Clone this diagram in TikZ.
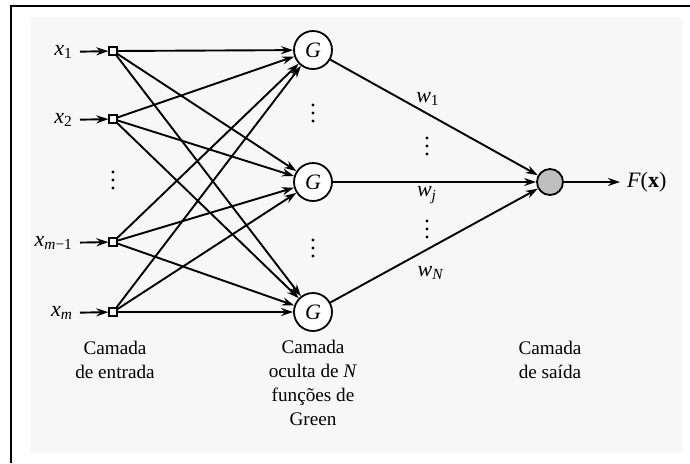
\documentclass[tikz,border=0pt]{standalone}
\usepackage{fontspec}
\setmainfont{Liberation Serif}
\usetikzlibrary{arrows.meta}
\begin{document}
\begin{tikzpicture}[x=0.5pt,y=-0.5pt,
  every node/.style={font=\fontsize{9.6}{12}\selectfont},
  sym/.style={font=\fontsize{11}{13}\selectfont},
  inp/.style={draw,line width=0.8pt,minimum size=3.8pt,inner sep=0pt,fill=white},
  hid/.style={circle,draw,line width=0.9pt,minimum size=19pt,inner sep=0pt,fill=white,font=\fontsize{11}{13}\selectfont},
  outn/.style={circle,draw,line width=0.9pt,minimum size=13pt,inner sep=0pt,fill=gray!50},
  conn/.style={line width=0.95pt,-{Stealth[length=6pt,width=4pt]}},
  lab/.style={align=center},
  dotf/.style={fill=black}]
\useasboundingbox (0,0) rectangle (690,463);
\fill[white] (0,0) rectangle (690,463);
\fill[black!3] (31,17) rectangle (682,453);
\draw[line width=1pt] (11,463) -- (11,6) -- (690,6);

% input nodes
\node[inp] (i1) at (113,51) {};
\node[inp] (i2) at (113,119) {};
\node[inp] (i3) at (113,242) {};
\node[inp] (i4) at (113,312) {};
\node[sym,anchor=east] (l1) at (80,52) {\textit{x}\textsubscript{1}};
\node[sym,anchor=east] (l2) at (80,120) {\textit{x}\textsubscript{2}};
\node[sym,anchor=east] (l3) at (80,243) {\textit{x}\textsubscript{\textit{m}−1}};
\node[sym,anchor=east] (l4) at (80,313) {\textit{x}\textsubscript{\textit{m}}};

% hidden nodes
\node[hid] (h1) at (313,50) {\textit{G}};
\node[hid] (h2) at (313,182) {\textit{G}};
\node[hid] (h3) at (313,312) {\textit{G}};

% output
\node[outn] (o) at (550,182) {};
\node[sym,anchor=west] (F) at (620,182) {\textit{F}(\textbf{x})};

% weights
\node[sym] (w1) at (428,99) {\textit{w}\textsubscript{1}};
\node[sym] (wj) at (427,195) {\textit{w}\textsubscript{\textit{j}}};
\node[sym] (wN) at (431,273) {\textit{w}\textsubscript{\textit{N}}};

% vertical ellipses
\foreach \cx/\cy in {113/172,313/105,313/240,427/138,427/221}{
  \foreach \k in {0,8,16}{\fill[dotf] (\cx,\cy+\k) circle (0.8pt);}}

% connectors
\foreach \l/\i in {l1/i1,l2/i2,l3/i3,l4/i4}{\draw[conn] (\l) -- (\i);}
\foreach \i in {i1,i2,i3,i4}{
  \foreach \h in {h1,h2,h3}{\draw[conn] (\i) -- (\h);}}
\foreach \h in {h1,h2,h3}{\draw[conn] (\h) -- (o);}
\draw[conn] (o) -- (F);

% layer captions
\node[lab] (c1) at (115,360) {Camada\\de entrada};
\node[lab] (c2) at (313,383) {Camada\\oculta de \textit{N}\\funções de\\Green};
\node[lab] (c3) at (550,360) {Camada\\de saída};
\end{tikzpicture}
\end{document}
